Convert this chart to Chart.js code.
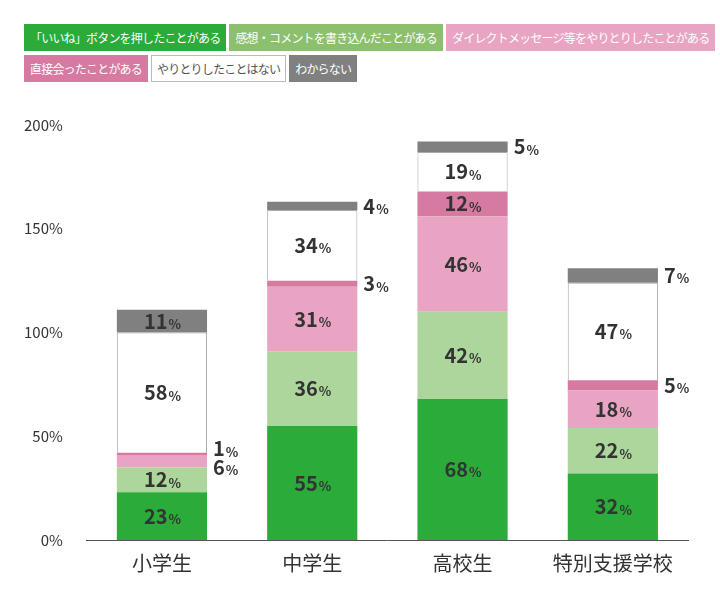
<!DOCTYPE html>
<html lang="ja">
<head>
<meta charset="UTF-8">
<script src="https://cdn.jsdelivr.net/npm/chart.js@4.4.0/dist/chart.umd.min.js"></script>
<style>
body{margin:0;background:#fff;font-family:"Noto Sans CJK JP","Noto Sans",sans-serif;}
#legend{position:absolute;left:24px;top:24px;width:690px;white-space:nowrap;}
#legend span{display:inline-block;font-size:12px;letter-spacing:-0.8px;padding:4px 5px;margin:0 3px 4px 0;border:1px solid transparent;color:#fff;}
#wrap{position:absolute;left:0;top:100px;width:720px;height:500px;}
</style>
</head>
<body>
<div id="legend"></div>
<div id="wrap"><canvas id="c"></canvas></div>
<script>
var categories = ['小学生','中学生','高校生','特別支援学校'];
var seriesNames = ['「いいね」ボタンを押したことがある','感想・コメントを書き込んだことがある','ダイレクトメッセージ等をやりとりしたことがある','直接会ったことがある','やりとりしたことはない','わからない'];
var likeVals = [23,55,68,32];
var commentVals = [12,36,42,22];
var dmVals = [6,31,46,18];
var metVals = [1,3,12,5];
var noneVals = [58,34,19,47];
var unknownVals = [11,4,5,7];
var yTicks = [0,50,100,150,200];

var fills = ['#2aab3a','#acd69c','#e8a4c2','#d67aa2','#ffffff','#808080'];
var legendFills = ['#2aab3a','#8cc06c','#e8a4c2','#d67aa2','#ffffff','#808080'];
var borders = ['#2aab3a','#acd69c','#e8a4c2','#d67aa2','#aaaaaa','#808080'];
var allVals = [likeVals,commentVals,dmVals,metVals,noneVals,unknownVals];

var lg = document.getElementById('legend');
seriesNames.forEach(function(n,i){
  var s = document.createElement('span');
  s.textContent = n;
  s.style.background = legendFills[i];
  if(i==4){s.style.color='#555';s.style.borderColor='#bbb';}
  lg.appendChild(s);
  if(i==2) lg.appendChild(document.createElement('br'));
});

var labelPlugin = {
  id:'segLabels',
  afterDatasetsDraw:function(chart){
    var ctx = chart.ctx;
    chart.data.datasets.forEach(function(ds,di){
      var meta = chart.getDatasetMeta(di);
      meta.data.forEach(function(bar,i){
        var v = ds.data[i];
        var y = (bar.y + bar.base)/2;
        var x = bar.x, outside = v < 8;
        if(outside){
          x = bar.x + bar.width/2 + 6;
          if(i==0 && di==2) y += 6;
          if(i==0 && di==3) y -= 5;
        }
        ctx.save();
        ctx.fillStyle = '#333';
        ctx.textBaseline = 'middle';
        ctx.font = 'bold 20px "Noto Sans CJK JP"';
        var w1 = ctx.measureText(String(v)).width;
        ctx.font = 'bold 13px "Noto Sans CJK JP"';
        var w2 = ctx.measureText('%').width;
        var sx = outside ? x : x - (w1+w2)/2;
        ctx.font = 'bold 20px "Noto Sans CJK JP"';
        ctx.textAlign = 'left';
        ctx.fillText(String(v), sx, y);
        ctx.font = 'bold 13px "Noto Sans CJK JP"';
        ctx.fillText('%', sx + w1 + 1, y + 3);
        ctx.restore();
      });
    });
  }
};

new Chart(document.getElementById('c'), {
  type:'bar',
  data:{
    labels:categories,
    datasets:allVals.map(function(d,i){
      return {label:seriesNames[i],data:d,backgroundColor:fills[i],borderColor:borders[i],
        borderWidth:i==4?{top:1,left:1,right:1,bottom:0}:0,borderSkipped:false,
        barPercentage:0.6,categoryPercentage:1};
    })
  },
  options:{
    responsive:true,maintainAspectRatio:false,animation:false,
    layout:{padding:{left:8,right:32,top:18,bottom:22}},
    plugins:{legend:{display:false},tooltip:{enabled:false}},
    scales:{
      x:{stacked:true,grid:{display:false},border:{color:'#555'},
         ticks:{color:'#333',font:{size:20,family:'"Noto Sans CJK JP"'}}},
      y:{stacked:true,min:0,max:200,grid:{display:false},border:{display:false},
         afterBuildTicks:function(a){a.ticks=yTicks.map(function(v){return {value:v};});},
         ticks:{color:'#333',padding:16,font:{size:15,family:'"Noto Sans CJK JP"'},callback:function(v){return v+'%';}}}
    }
  },
  plugins:[labelPlugin]
});
</script>
</body>
</html>
